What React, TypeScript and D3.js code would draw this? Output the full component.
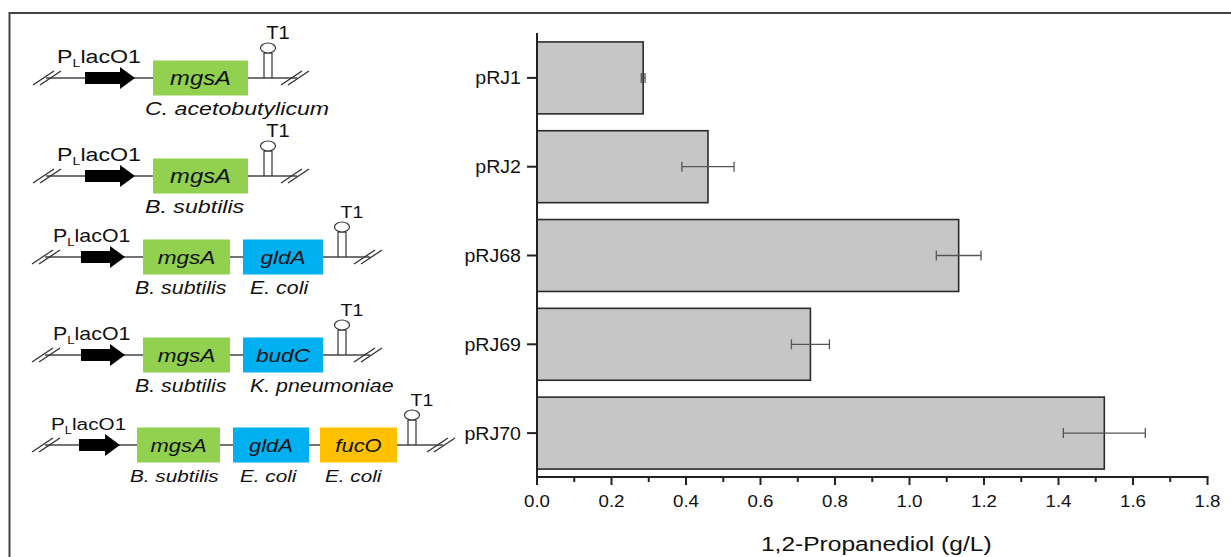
import React from 'react';
import * as d3 from 'd3';

// ---- chart data ----
const categories = ['pRJ1', 'pRJ2', 'pRJ68', 'pRJ69', 'pRJ70'];
const values = [0.285, 0.459, 1.132, 0.734, 1.523];
const errors = [0.005, 0.07, 0.06, 0.051, 0.11];
const xTicks = [0, 0.2, 0.4, 0.6, 0.8, 1.0, 1.2, 1.4, 1.6, 1.8];
const xMinorTicks = [0.1, 0.3, 0.5, 0.7, 0.9, 1.1, 1.3, 1.5, 1.7];
const xTitle = '1,2-Propanediol (g/L)';

// ---- construct diagram data ----
const constructGenes = [['mgsA'], ['mgsA'], ['mgsA', 'gldA'], ['mgsA', 'budC'], ['mgsA', 'gldA', 'fucO']];
const constructSources = [
  ['C. acetobutylicum'],
  ['B. subtilis'],
  ['B. subtilis', 'E. coli'],
  ['B. subtilis', 'K. pneumoniae'],
  ['B. subtilis', 'E. coli', 'E. coli'],
];
const geneColor: Record<string, string> = { mgsA: '#92D050', gldA: '#00B0F0', budC: '#00B0F0', fucO: '#FFC000' };

// layout of the diagram rows
const rowLayout = [
  { y: 78, hatchL: 33, arrow: [85, 135], boxes: [[153, 248]], term: 268, hatchR: 281, fs: 19, gfs: 19.5, src: [145], tfs: 17.5 },
  { y: 176, hatchL: 33, arrow: [85, 135], boxes: [[153, 248]], term: 268, hatchR: 281, fs: 19, gfs: 19.5, src: [145], tfs: 17.5 },
  { y: 257, hatchL: 32, arrow: [81, 125], boxes: [[143, 230], [243, 323]], term: 342, hatchR: 354, fs: 17.5, gfs: 18.5, src: [135, 250], tfs: 17 },
  { y: 355, hatchL: 32, arrow: [81, 125], boxes: [[143, 230], [243, 323]], term: 342, hatchR: 354, fs: 17.5, gfs: 18.5, src: [135, 250], tfs: 17 },
  { y: 445, hatchL: 32, arrow: [79, 120], boxes: [[137, 220], [233, 309], [320, 397]], term: 412, hatchR: 427, fs: 17, gfs: 18, src: [130, 240, 325], tfs: 17 },
];

const FONT = 'Liberation Sans, Arial, sans-serif';
const SX = 1.22;

function T({ x, y, sx = SX, size, anchor = 'start', italic = false, children }: any) {
  return (
    <text
      transform={`translate(${x},${y}) scale(${sx},1)`}
      fontSize={size}
      fontFamily={FONT}
      fontStyle={italic ? 'italic' : 'normal'}
      textAnchor={anchor}
      fill="#111"
    >
      {children}
    </text>
  );
}

function Hatch({ x, y }: { x: number; y: number }) {
  return (
    <g stroke="#333" strokeWidth={1.3}>
      <line x1={x} y1={y + 7} x2={x + 21} y2={y - 7} />
      <line x1={x + 7} y1={y + 7} x2={x + 28} y2={y - 7} />
    </g>
  );
}

function Construct({ i }: { i: number }) {
  const L = rowLayout[i];
  const y = L.y;
  const [a0, a1] = L.arrow;
  const headLen = 15;
  const arrowPts = [
    [a0, y - 6], [a1 - headLen, y - 6], [a1 - headLen, y - 11], [a1, y],
    [a1 - headLen, y + 11], [a1 - headLen, y + 6], [a0, y + 6],
  ].map((p) => p.join(',')).join(' ');
  return (
    <g>
      <line x1={L.hatchL + 13} y1={y} x2={L.hatchR + 16} y2={y} stroke="#444" strokeWidth={1.3} />
      <Hatch x={L.hatchL} y={y} />
      <Hatch x={L.hatchR} y={y} />
      <polygon points={arrowPts} fill="#000" />
      <T x={a0 - 28} y={y - 15} size={L.fs}>
        <tspan>P</tspan>
        <tspan dy={4} fontSize={L.fs * 0.62}>L</tspan>
        <tspan dy={-4}>lacO1</tspan>
      </T>
      {constructGenes[i].map((g, j) => {
        const [b0, b1] = L.boxes[j];
        return (
          <g key={j}>
            <rect x={b0} y={y - 17.5} width={b1 - b0} height={35} fill={geneColor[g]} />
            <T x={(b0 + b1) / 2} y={y + 6.5} size={L.gfs} anchor="middle" italic>{g}</T>
            <T x={L.src[j]} y={y + 37} size={L.fs} italic>{constructSources[i][j]}</T>
          </g>
        );
      })}
      <g stroke="#333" strokeWidth={1.2} fill="#fff">
        <line x1={L.term - 4} y1={y} x2={L.term - 4} y2={y - 25} />
        <line x1={L.term + 4} y1={y} x2={L.term + 4} y2={y - 25} />
        <line x1={L.term - 4} y1={y - 25} x2={L.term + 4} y2={y - 25} />
        <ellipse cx={L.term} cy={y - 30} rx={7.5} ry={5} />
      </g>
      <T x={L.term + 10} y={y - 39} size={L.tfs} sx={1.15} anchor="middle">T1</T>
    </g>
  );
}

export default function App() {
  const W = 1231, H = 557;
  const x = d3.scaleLinear().domain([0, 1.8]).range([537, 1207.5]);
  const y = d3.scaleBand<string>().domain(categories).range([33.5, 477.5]).paddingInner(0.19).paddingOuter(0.095);
  const axisY = 477;
  const bw = y.bandwidth();

  return (
    <svg width={W} height={H} style={{ position: 'absolute', left: 0, top: 0, background: '#fff' }}>
      <rect x={0} y={0} width={W} height={H} fill="#fff" />
      {/* frame */}
      <line x1={9.5} y1={13} x2={W} y2={13} stroke="#444" strokeWidth={2} />
      <line x1={9.5} y1={12} x2={9.5} y2={H} stroke="#444" strokeWidth={2} />

      {/* diagrams */}
      {rowLayout.map((_, i) => <Construct key={i} i={i} />)}

      {/* bars */}
      {categories.map((c, i) => {
        const yc = (y(c) as number) + bw / 2;
        const v = values[i], e = errors[i];
        return (
          <g key={c}>
            <rect x={x(0)} y={y(c)} width={x(v) - x(0)} height={bw} fill="#c6c6c6" stroke="#2a2a2a" strokeWidth={1.6} />
            <g stroke="#555" strokeWidth={1.3}>
              <line x1={x(v - e)} y1={yc} x2={x(v + e)} y2={yc} />
              <line x1={x(v - e)} y1={yc - 5} x2={x(v - e)} y2={yc + 5} />
              <line x1={x(v + e)} y1={yc - 5} x2={x(v + e)} y2={yc + 5} />
            </g>
            <line x1={527} y1={yc} x2={x(0)} y2={yc} stroke="#222" strokeWidth={2} />
            <T x={521} y={yc + 6.5} size={17.5} sx={1.12} anchor="end">{c}</T>
          </g>
        );
      })}

      {/* axes */}
      <line x1={x(0)} y1={33} x2={x(0)} y2={axisY + 1} stroke="#222" strokeWidth={2} />
      <line x1={x(0) - 1} y1={axisY} x2={x(1.8) + 1} y2={axisY} stroke="#222" strokeWidth={2} />
      {xTicks.map((t) => (
        <g key={t}>
          <line x1={x(t)} y1={axisY} x2={x(t)} y2={axisY + 8} stroke="#222" strokeWidth={2} />
          <T x={x(t)} y={axisY + 30} size={17} sx={1.1} anchor="middle">{d3.format('.1f')(t)}</T>
        </g>
      ))}
      {xMinorTicks.map((t) => (
        <line key={t} x1={x(t)} y1={axisY} x2={x(t)} y2={axisY + 5} stroke="#222" strokeWidth={2} />
      ))}
      <T x={(x(0) + x(1.8)) / 2 + 4} y={551} size={21} sx={1.17} anchor="middle">{xTitle}</T>
    </svg>
  );
}
